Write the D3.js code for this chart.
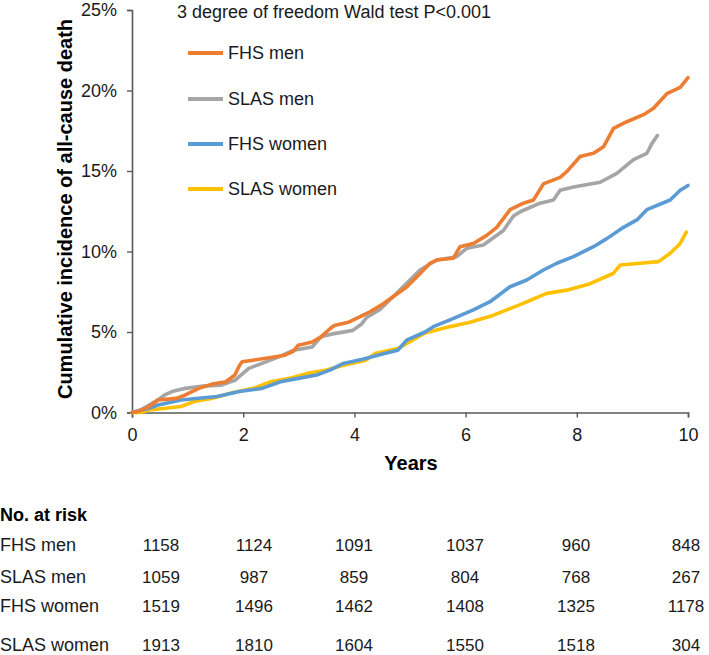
<!DOCTYPE html>
<html>
<head>
<meta charset="utf-8">
<script src="https://cdn.jsdelivr.net/npm/d3@7"></script>
<style>
  html, body { margin: 0; padding: 0; background: #fff; }
  svg { display: block; font-family: "Liberation Sans", Arial, sans-serif; }
</style>
</head>
<body>
<svg id="chart" width="709" height="655"></svg>
<script>
// ---------- data ----------
const seriesNames = ["FHS men", "SLAS men", "FHS women", "SLAS women"];
const seriesColors = ["#ED7D31", "#A5A5A5", "#5B9BD5", "#FFC000"];

const fhsMenT = [0, 0.1, 0.31, 0.47, 0.8, 0.96, 1.2, 1.45, 1.69, 1.85, 1.93, 1.98, 2.18, 2.5, 2.75, 2.9, 2.99, 3.24, 3.4, 3.56, 3.64, 3.89, 4.13, 4.25, 4.52, 4.94, 5.2, 5.36, 5.48, 5.78, 5.9, 6.14, 6.38, 6.56, 6.8, 7.04, 7.22, 7.4, 7.7, 7.82, 8.06, 8.3, 8.48, 8.66, 8.9, 9.2, 9.38, 9.62, 9.86, 10.0];
const fhsMenV = [0, 0.05, 0.37, 0.78, 0.88, 1.09, 1.5, 1.77, 1.91, 2.33, 2.9, 3.15, 3.25, 3.42, 3.56, 3.8, 4.18, 4.38, 4.7, 5.2, 5.4, 5.6, 6.0, 6.2, 6.75, 7.8, 8.7, 9.27, 9.47, 9.58, 10.3, 10.5, 11.0, 11.5, 12.6, 13.0, 13.2, 14.2, 14.6, 14.96, 15.9, 16.1, 16.5, 17.65, 18.06, 18.5, 18.9, 19.8, 20.2, 20.8];

const slasMenT = [0, 0.15, 0.31, 0.45, 0.59, 0.72, 0.96, 1.28, 1.61, 1.85, 2.1, 2.34, 2.67, 2.91, 3.24, 3.4, 3.64, 3.97, 4.13, 4.22, 4.46, 4.52, 5.0, 5.18, 5.48, 5.84, 6.02, 6.32, 6.68, 6.86, 7.0, 7.34, 7.58, 7.7, 7.94, 8.42, 8.72, 9.02, 9.26, 9.35, 9.45];
const slasMenV = [0, 0.15, 0.47, 0.75, 1.09, 1.3, 1.5, 1.65, 1.7, 2.0, 2.74, 3.05, 3.5, 3.87, 4.07, 4.7, 4.9, 5.1, 5.5, 5.9, 6.4, 6.6, 8.23, 8.85, 9.47, 9.68, 10.2, 10.4, 11.3, 12.2, 12.5, 13.0, 13.2, 13.8, 14.0, 14.3, 14.85, 15.7, 16.1, 16.7, 17.2];

const fhsWomenT = [0, 0.31, 0.47, 0.88, 1.2, 1.53, 1.93, 2.34, 2.67, 2.99, 3.32, 3.56, 3.8, 4.13, 4.54, 4.78, 4.94, 5.27, 5.42, 5.72, 6.14, 6.44, 6.8, 7.1, 7.4, 7.64, 7.94, 8.3, 8.54, 8.84, 9.08, 9.26, 9.68, 9.86, 10.0];
const fhsWomenV = [0, 0.27, 0.47, 0.78, 0.88, 0.99, 1.3, 1.5, 1.91, 2.12, 2.33, 2.63, 3.05, 3.29, 3.66, 3.87, 4.49, 5.0, 5.33, 5.75, 6.37, 6.88, 7.81, 8.23, 8.85, 9.27, 9.68, 10.3, 10.8, 11.5, 11.96, 12.6, 13.2, 13.8, 14.1];

const slasWomenT = [0, 0.15, 0.31, 0.88, 1.12, 1.45, 1.77, 2.18, 2.5, 2.83, 3.15, 3.48, 3.8, 4.21, 4.37, 4.78, 5.27, 5.67, 6.08, 6.49, 6.98, 7.46, 7.82, 8.24, 8.66, 8.78, 9.14, 9.47, 9.68, 9.86, 9.97];
const slasWomenV = [0, 0, 0.16, 0.37, 0.68, 0.88, 1.19, 1.5, 1.91, 2.12, 2.43, 2.63, 2.94, 3.25, 3.66, 3.97, 4.94, 5.3, 5.6, 6.03, 6.7, 7.4, 7.6, 8.0, 8.65, 9.16, 9.27, 9.37, 9.89, 10.5, 11.2];

const xTicks = [0, 2, 4, 6, 8, 10];
const yTicks = [0, 5, 10, 15, 20, 25];

const riskYears = [0, 2, 4, 6, 8, 10];
const riskFhsMen = [1158, 1124, 1091, 1037, 960, 848];
const riskSlasMen = [1059, 987, 859, 804, 768, 267];
const riskFhsWomen = [1519, 1496, 1462, 1408, 1325, 1178];
const riskSlasWomen = [1913, 1810, 1604, 1550, 1518, 304];

const titleText = "3 degree of freedom Wald test P<0.001";
const xTitle = "Years";
const yTitle = "Cumulative incidence of all-cause death";
const riskTitle = "No. at risk";

// ---------- layout ----------
const svg = d3.select("#chart");
const plot = { left: 132, right: 688, top: 10, bottom: 412.5 };
const tableColX = [161, 254, 354, 465, 576, 686];
const tableRowBase = [551, 583, 612, 651];
const legendY = [53, 99, 144, 189];
const axisColor = "#595959";
const textColor = "#1a1a1a";

const x = d3.scaleLinear().domain([0, 10]).range([plot.left, plot.right]);
const y = d3.scaleLinear().domain([0, 25]).range([plot.bottom, plot.top]);

// axes
const yAxis = d3.axisLeft(y).tickValues(yTicks).tickFormat(d => d + "%").tickSize(5).tickPadding(10);
const xAxis = d3.axisBottom(x).tickValues(xTicks).tickFormat(d3.format("d")).tickSize(5).tickPadding(11);

const gy = svg.append("g").attr("transform", `translate(${plot.left},0)`).call(yAxis);
const gx = svg.append("g").attr("transform", `translate(0,${plot.bottom})`).call(xAxis);
[gx, gy].forEach(g => {
  g.select(".domain").attr("stroke", axisColor).attr("stroke-width", 1.6);
  g.selectAll(".tick line").attr("stroke", axisColor).attr("stroke-width", 1.4);
  g.selectAll(".tick text").attr("fill", textColor).style("font-size", "18px")
    .style("font-family", "'Liberation Sans', Arial, sans-serif");
});

// curves
const series = [
  { t: fhsMenT, v: fhsMenV },
  { t: slasMenT, v: slasMenV },
  { t: fhsWomenT, v: fhsWomenV },
  { t: slasWomenT, v: slasWomenV }
];
const line = d3.line().x(d => x(d[0])).y(d => y(d[1])).curve(d3.curveLinear);
[3, 2, 1, 0].forEach(i => {
  const s = series[i];
  const pts = s.t.map((t, k) => [t, s.v[k]]);
  svg.append("path").datum(pts)
    .attr("d", line)
    .attr("fill", "none")
    .attr("stroke", seriesColors[i])
    .attr("stroke-width", 3.6)
    .attr("stroke-linejoin", "round")
    .attr("stroke-linecap", "round");
});

// title
svg.append("text").attr("x", 177).attr("y", 12).attr("dominant-baseline", "central")
  .attr("fill", textColor).style("font-size", "18px").text(titleText);

// legend
seriesNames.forEach((n, i) => {
  svg.append("line").attr("x1", 188).attr("x2", 223).attr("y1", legendY[i]).attr("y2", legendY[i])
    .attr("stroke", seriesColors[i]).attr("stroke-width", 4);
  svg.append("text").attr("x", 228).attr("y", legendY[i]).attr("dominant-baseline", "central")
    .attr("fill", textColor).style("font-size", "18px").text(n);
});

// axis titles
svg.append("text").attr("x", 411).attr("y", 463).attr("text-anchor", "middle")
  .attr("dominant-baseline", "central").attr("fill", "#000")
  .style("font-size", "20px").style("font-weight", "bold").text(xTitle);
svg.append("text").attr("transform", "translate(65,209) rotate(-90)").attr("text-anchor", "middle")
  .attr("dominant-baseline", "central").attr("fill", "#000")
  .style("font-size", "20px").style("font-weight", "bold").text(yTitle);

// at-risk table
svg.append("text").attr("x", 0).attr("y", 521)
  .attr("fill", "#000").style("font-size", "18px").style("font-weight", "bold").text(riskTitle);
const riskRows = [riskFhsMen, riskSlasMen, riskFhsWomen, riskSlasWomen];
riskRows.forEach((row, r) => {
  svg.append("text").attr("x", 0).attr("y", tableRowBase[r])
    .attr("fill", textColor).style("font-size", "18px").text(seriesNames[r]);
  row.forEach((v, c) => {
    svg.append("text").attr("x", tableColX[c]).attr("y", tableRowBase[r])
      .attr("text-anchor", "middle")
      .attr("fill", textColor).style("font-size", "17px").text(v);
  });
});
</script>
</body>
</html>
